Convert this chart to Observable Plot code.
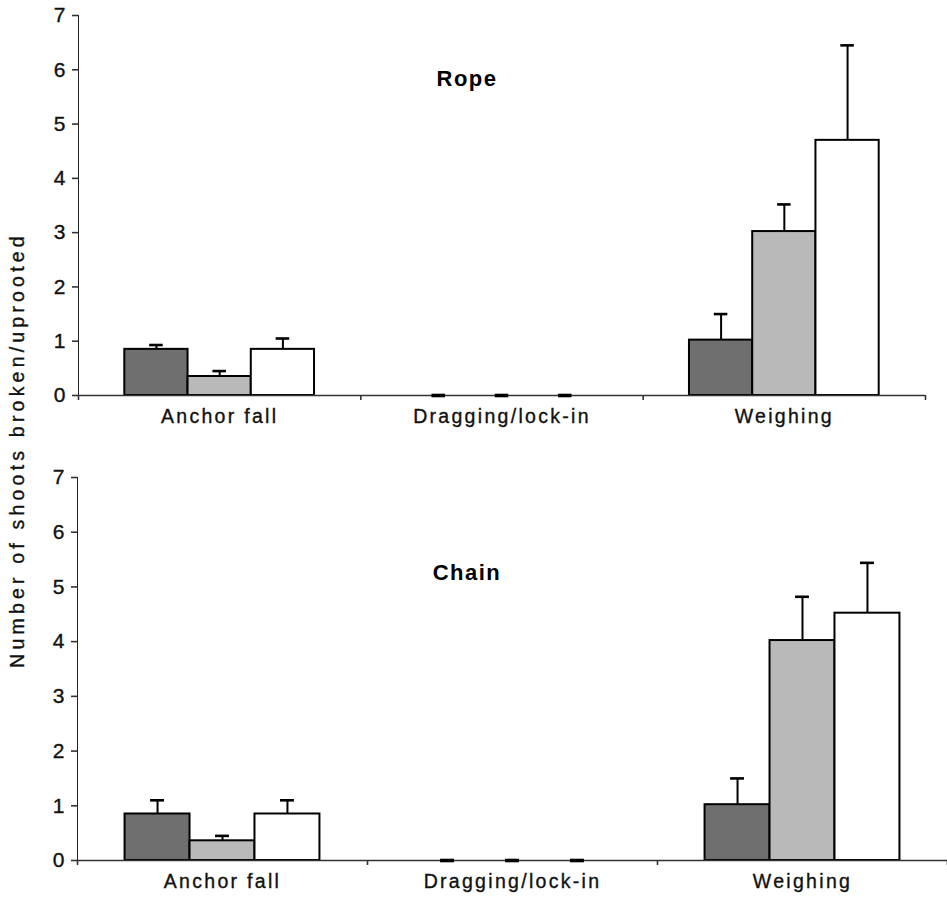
<!DOCTYPE html>
<html><head><meta charset="utf-8">
<script src="https://cdn.jsdelivr.net/npm/d3@7"></script>
<script src="https://cdn.jsdelivr.net/npm/@observablehq/plot@0.6"></script>
<style>
html,body{margin:0;padding:0;background:#fff;}
#wrap{position:relative;width:947px;height:901px;overflow:hidden;font-family:"Liberation Sans",Arial,sans-serif;background:#fff;}
.panel{position:absolute;left:0;}
.title{position:absolute;font-weight:bold;font-size:22px;letter-spacing:1.5px;transform:translate(-50%,-50%);color:#000;white-space:nowrap;}
#ylab{position:absolute;left:17px;top:450px;transform:translate(-50%,-50%) rotate(-90deg);white-space:nowrap;font-size:19.5px;letter-spacing:4.2px;color:#111;-webkit-text-stroke:0.35px #111;}
</style></head><body>
<div id="wrap">
  <div class="panel" id="top" style="top:0px"></div>
  <div class="panel" id="bottom" style="top:460px"></div>
  <div class="title" style="left:467px;top:79px">Rope</div>
  <div class="title" style="left:467px;top:573px">Chain</div>
  <div id="ylab">Number of shoots broken/uprooted</div>
</div>
<script>
// ---- data ----
const categories = ["Anchor fall", "Dragging/lock-in", "Weighing"];
const seriesNames = ["Series 1", "Series 2", "Series 3"];
const seriesFill = ["#6f6f6f", "#b9b9b9", "#ffffff"];
const yTicks = [0, 1, 2, 3, 4, 5, 6, 7];

// Rope: mean per category for each series, and error (upper) bars
const ropeSeries1 = [0.85, 0, 1.02];
const ropeSeries2 = [0.35, 0, 3.02];
const ropeSeries3 = [0.85, 0, 4.70];
const ropeErr1 = [0.08, 0, 0.48];
const ropeErr2 = [0.10, 0, 0.50];
const ropeErr3 = [0.20, 0, 1.75];

// Chain
const chainSeries1 = [0.85, 0, 1.02];
const chainSeries2 = [0.36, 0, 4.02];
const chainSeries3 = [0.85, 0, 4.52];
const chainErr1 = [0.25, 0, 0.48];
const chainErr2 = [0.09, 0, 0.80];
const chainErr3 = [0.25, 0, 0.92];

// ---- build table ----
const groupFrac = 0.672;           // fraction of category band used by the 3 bars
const barFrac = groupFrac / 3;
const capHalf = 0.024;
function table(series, errs) {
  const rows = [];
  categories.forEach((c, ci) => {
    series.forEach((vals, si) => {
      const x1 = ci + (1 - groupFrac) / 2 + si * barFrac;
      const xc = x1 + barFrac / 2;
      rows.push({category: c, series: seriesNames[si], value: vals[ci], top: vals[ci] + errs[si][ci],
                 x1, x2: x1 + barFrac, xc, c1: xc - capHalf, c2: xc + capHalf});
    });
  });
  return rows;
}

function panel(rows, {height, marginTop, marginBottom, marginLeft, marginRight}) {
  const svg = Plot.plot({
    width: 947, height, marginTop, marginBottom, marginLeft, marginRight,
    style: {fontFamily: "'Liberation Sans', Arial, sans-serif", fontSize: "20px", color: "#222", background: "transparent", overflow: "visible"},
    x: {domain: [0, 3], ticks: [0, 1, 2, 3], tickFormat: () => "", tickSize: 5, label: null},
    y: {domain: [0, 7], ticks: yTicks, tickSize: 6, tickPadding: 7, line: true, label: null, tickFormat: d => String(d)},
    color: {domain: seriesNames, range: seriesFill},
    marks: [
      Plot.rectY(rows.filter(d => d.value > 0), {x1: "x1", x2: "x2", y: "value", fill: "series", stroke: "#000", strokeWidth: 2}),
      Plot.ruleY([0], {stroke: "#333", strokeWidth: 1.6}),
      Plot.ruleX(rows.filter(d => d.top > d.value), {x: "xc", y1: "value", y2: "top", stroke: "#000", strokeWidth: 2}),
      Plot.ruleY(rows, {x1: "c1", x2: "c2", y: "top", stroke: "#000", strokeWidth: d => d.value > 0 ? 2.6 : 3.6}),
      Plot.text(categories, {x: (d, i) => i + 0.5, frameAnchor: "bottom", dy: 27, fontSize: 19.5, fill: "#111", text: d => d})
    ]
  });
  const s = d3.select(svg);
  s.selectAll("text").filter(function() { return categories.includes(this.textContent); })
    .attr("letter-spacing", "2.3px").attr("stroke", "#111").attr("stroke-width", 0.35);
  s.selectAll("text").filter(function() { return /^\d$/.test(this.textContent); })
    .style("font-size", "21px").attr("fill", "#111").attr("stroke", "#111").attr("stroke-width", 0.35);
  s.selectAll("g[aria-label='y-axis'], g[aria-label='x-axis'], g[aria-label='y-axis tick'], g[aria-label='x-axis tick'], g[aria-label='y-axis line']")
    .style("stroke-width", "1.6").attr("stroke", "#333");
  return svg;
}

document.getElementById("top").appendChild(
  panel(table([ropeSeries1, ropeSeries2, ropeSeries3], [ropeErr1, ropeErr2, ropeErr3]),
        {height: 440, marginTop: 15, marginBottom: 45, marginLeft: 78, marginRight: 22}));
document.getElementById("bottom").appendChild(
  panel(table([chainSeries1, chainSeries2, chainSeries3], [chainErr1, chainErr2, chainErr3]),
        {height: 441, marginTop: 17, marginBottom: 41, marginLeft: 77, marginRight: 0}));
</script>
</body></html>
